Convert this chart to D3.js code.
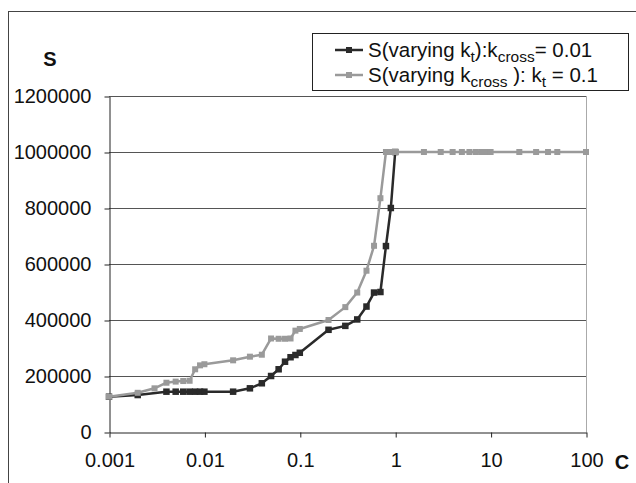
<!DOCTYPE html>
<html>
<head>
<meta charset="utf-8">
<script src="https://cdn.jsdelivr.net/npm/d3@7"></script>
<style>
  html, body { margin: 0; padding: 0; background: #fff; }
  svg { display: block; }
  text { font-family: "Liberation Sans", Arial, sans-serif; fill: #111; }
</style>
</head>
<body>
<script>
// ---- Data ----
const blackC = [0.001, 0.002, 0.004, 0.005, 0.006, 0.007, 0.008, 0.009, 0.01, 0.02, 0.03, 0.04, 0.05, 0.06, 0.07, 0.08, 0.09, 0.1, 0.2, 0.3, 0.4, 0.5, 0.6, 0.7, 0.8, 0.9, 1];
const blackS = [126000, 132000, 144000, 144000, 144000, 144000, 144000, 144000, 144000, 144000, 156000, 174000, 200000, 224000, 251000, 267000, 275000, 283000, 365000, 379000, 402000, 448000, 498000, 500000, 664000, 800000, 1000000];

const greyC = [0.001, 0.002, 0.003, 0.004, 0.005, 0.006, 0.007, 0.008, 0.009, 0.01, 0.02, 0.03, 0.04, 0.05, 0.06, 0.07, 0.08, 0.09, 0.1, 0.2, 0.3, 0.4, 0.5, 0.6, 0.7, 0.8, 0.9, 1, 2, 3, 4, 5, 6, 7, 8, 9, 10, 20, 30, 40, 50, 100];
const greyS = [126000, 140000, 156000, 176000, 180000, 182000, 183000, 224000, 238000, 242000, 256000, 269000, 276000, 334000, 333000, 333000, 334000, 362000, 368000, 400000, 446000, 498000, 576000, 665000, 835000, 1000000, 1000000, 1000000, 1000000, 1000000, 1000000, 1000000, 1000000, 1000000, 1000000, 1000000, 1000000, 1000000, 1000000, 1000000, 1000000, 1000000];

const xTickValues = [0.001, 0.01, 0.1, 1, 10, 100];
const xTickLabels = ["0.001", "0.01", "0.1", "1", "10", "100"];
const yTickValues = [0, 200000, 400000, 600000, 800000, 1000000, 1200000];

const W = 636, H = 483;
const FS = 20;
const svg = d3.select("body").append("svg").attr("width", W).attr("height", H);

// outer frame (partial, as in reference)
svg.append("line").attr("x1", 8.5).attr("x2", 8.5).attr("y1", 11).attr("y2", H).attr("stroke", "#444").attr("stroke-width", 1);
svg.append("line").attr("x1", 8).attr("x2", W).attr("y1", 11.5).attr("y2", 11.5).attr("stroke", "#444").attr("stroke-width", 1);

const x = d3.scaleLog().domain([0.001, 100]).range([109, 586]);
const y = d3.scaleLinear().domain([0, 1200000]).range([432, 96]);

// gridlines
svg.append("g").selectAll("line").data(yTickValues.filter(v => v > 0)).join("line")
  .attr("x1", 109).attr("x2", 586)
  .attr("y1", d => Math.round(y(d)) + 0.5).attr("y2", d => Math.round(y(d)) + 0.5)
  .attr("stroke", "#555").attr("stroke-width", 1);
// right border
svg.append("line").attr("x1", 586.5).attr("x2", 586.5).attr("y1", 96).attr("y2", 432)
  .attr("stroke", "#aaa").attr("stroke-width", 1);

// axes
const yAxis = d3.axisLeft(y).tickValues(yTickValues).tickFormat(d3.format("d")).tickSize(5).tickSizeOuter(0).tickPadding(13);
const gy = svg.append("g").attr("transform", "translate(109.5,0.5)").call(yAxis);
gy.selectAll("text").attr("font-size", FS).attr("font-family", "Liberation Sans, Arial, sans-serif").attr("fill", "#111");
gy.selectAll("line, path").attr("stroke", "#222");

const xAxis = d3.axisBottom(x).tickValues(xTickValues).tickFormat((d, i) => xTickLabels[i]).tickSize(5).tickSizeOuter(0).tickPadding(15);
const gx = svg.append("g").attr("transform", "translate(0.5,432.5)").call(xAxis);
gx.selectAll("text").attr("font-size", FS).attr("font-family", "Liberation Sans, Arial, sans-serif").attr("fill", "#111");
gx.selectAll("line, path").attr("stroke", "#222");

// axis titles
svg.append("text").attr("x", 50).attr("y", 66).attr("text-anchor", "middle")
  .attr("font-size", FS).attr("font-weight", "bold").text("S");
svg.append("text").attr("x", 622).attr("y", 469).attr("text-anchor", "middle")
  .attr("font-size", FS).attr("font-weight", "bold").text("C");

// series
function drawSeries(cs, ss, color, size) {
  const pts = cs.map((c, i) => [c, ss[i]]);
  const line = d3.line().x(d => x(d[0])).y(d => y(d[1]));
  svg.append("path").datum(pts).attr("d", line).attr("fill", "none")
    .attr("stroke", color).attr("stroke-width", 2.5).attr("stroke-linejoin", "round");
  svg.append("g").selectAll("rect").data(pts).join("rect")
    .attr("x", d => x(d[0]) - size / 2).attr("y", d => y(d[1]) - size / 2)
    .attr("width", size).attr("height", size).attr("fill", color);
}
drawSeries(blackC, blackS, "#2a2a2a", 6.5);
drawSeries(greyC, greyS, "#9a9a9a", 6);

// legend
const lg = svg.append("g");
lg.append("rect").attr("x", 312.5).attr("y", 33.5).attr("width", 316).attr("height", 57)
  .attr("fill", "#fff").attr("stroke", "#222").attr("stroke-width", 1);
const legendItems = [
  { color: "#2a2a2a", y: 50 },
  { color: "#9a9a9a", y: 75 }
];
legendItems.forEach(it => {
  lg.append("line").attr("x1", 335).attr("x2", 363).attr("y1", it.y).attr("y2", it.y)
    .attr("stroke", it.color).attr("stroke-width", 2.5);
  lg.append("rect").attr("x", 346).attr("y", it.y - 3).attr("width", 6).attr("height", 6).attr("fill", it.color);
});
const t1 = lg.append("text").attr("x", 368).attr("y", 57).attr("font-size", 20.5);
t1.append("tspan").text("S(varying k");
t1.append("tspan").attr("font-size", 15.5).attr("dy", 5).text("t");
t1.append("tspan").attr("dy", -5).text("):k");
t1.append("tspan").attr("font-size", 15.5).attr("dy", 5).text("cross");
t1.append("tspan").attr("dy", -5).text("= 0.01");
const t2 = lg.append("text").attr("x", 368).attr("y", 82).attr("font-size", 20.5);
t2.append("tspan").text("S(varying k");
t2.append("tspan").attr("font-size", 15.5).attr("dy", 5).text("cross");
t2.append("tspan").attr("dy", -5).text(" ): k");
t2.append("tspan").attr("font-size", 15.5).attr("dy", 5).text("t");
t2.append("tspan").attr("dy", -5).attr("xml:space", "preserve").text(" = 0.1");
</script>
</body>
</html>
